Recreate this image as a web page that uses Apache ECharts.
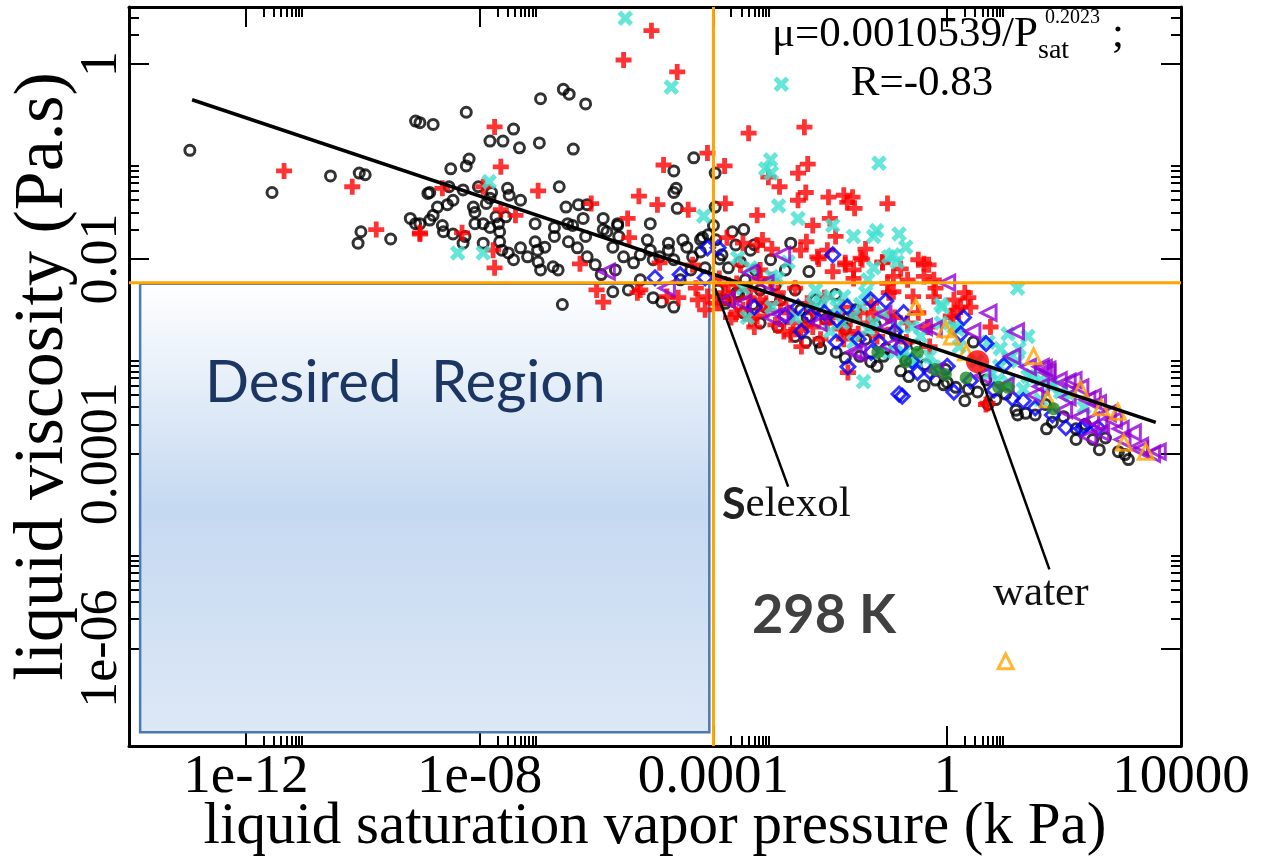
<!DOCTYPE html>
<html>
<head>
<meta charset="utf-8">
<script src="https://cdn.jsdelivr.net/npm/echarts@6/dist/echarts.min.js"></script>
<style>
html, body { margin: 0; padding: 0; background: #fff; }
#main { width: 1262px; height: 859px; }
</style>
</head>
<body>
<div id="main"></div>
<script>
// axis ticks
var xMajor = [1e-12, 1e-8, 1e-4, 1, 1e4];
var xLabels = ['1e-12', '1e-08', '0.0001', '1', '10000'];
var xMinor = [2e-12, 3e-12, 4e-12, 5e-12, 6e-12, 7e-12, 8e-12, 9e-12,
    2e-8, 3e-8, 4e-8, 5e-8, 6e-8, 7e-8, 8e-8, 9e-8,
    2e-4, 3e-4, 4e-4, 5e-4, 6e-4, 7e-4, 8e-4, 9e-4,
    2, 3, 4, 5, 6, 7, 8, 9];
var yMajor = [1, 0.01, 1e-4, 1e-6];
var yLabels = ['1', '0.01', '0.0001', '1e-06'];
var yMinor = [2, 3,
    0.02, 0.03, 0.04, 0.05, 0.06, 0.07, 0.08, 0.09,
    2e-4, 3e-4, 4e-4, 5e-4, 6e-4, 7e-4, 8e-4, 9e-4,
    2e-6, 3e-6, 4e-6, 5e-6, 6e-6, 7e-6, 8e-6, 9e-6];

// [vapor pressure kPa, viscosity Pa.s]
var circlePts = [
    [1.1e-13, 0.13], [2.8e-12, 0.048], [2.8e-11, 0.071], [8.7e-11, 0.076], [1.1e-10, 0.073],
    [9.3e-11, 0.019], [8.3e-11, 0.0145], [3e-10, 0.016], [8e-10, 0.023], [8e-10, 0.26],
    [1.3e-9, 0.047], [1.4e-9, 0.025], [6.5e-10, 0.026],
    [9.5e-10, 0.25], [1.6e-9, 0.24], [5.9e-9, 0.32], [1.1e-7, 0.44], [2.7e-7, 0.55], [3.4e-7, 0.49],
    [6.5e-7, 0.39], [3.8e-8, 0.215], [1.5e-8, 0.162], [2.5e-8, 0.162], [4.8e-8, 0.138], [1.05e-7, 0.155],
    [4e-7, 0.134], [6.6e-9, 0.106], [5.9e-9, 0.09], [3.2e-9, 0.084], [4.6e-5, 0.109], [2.1e-5, 0.08],
    [2.3e-7, 0.055], [3e-8, 0.053], [3.2e-8, 0.045], [1.4e-9, 0.048], [3e-9, 0.055], [5.2e-9, 0.051],
    [9.5e-9, 0.055], [1.6e-8, 0.048], [5e-8, 0.04], [3e-7, 0.034], [4.9e-7, 0.036], [6.9e-7, 0.036],
    [2.3e-5, 0.053], [2.1e-5, 0.048], [2.4e-5, 0.033], [1.9e-9, 0.034], [2.8e-9, 0.036], [3.5e-9, 0.04],
    [7.8e-9, 0.034], [8.3e-9, 0.03], [1.3e-8, 0.037], [1.5e-8, 0.042], [1.6e-9, 0.028], [9.5e-10, 0.023],
    [2.3e-9, 0.022], [2.4e-9, 0.019], [3.5e-9, 0.018], [5.6e-9, 0.017], [5.2e-9, 0.0145], [8.3e-9, 0.023],
    [1.15e-8, 0.023], [1.5e-8, 0.021], [2.1e-8, 0.023], [2.2e-8, 0.019], [8.9e-8, 0.023], [1.9e-7, 0.021],
    [3.2e-7, 0.023], [3.9e-7, 0.022], [5.9e-7, 0.026], [1.3e-6, 0.026], [2.3e-6, 0.023], [8.3e-6, 0.023],
    [1.9e-8, 0.027], [2.8e-8, 0.027],
    [1.15e-8, 0.0145], [2.2e-8, 0.015], [2.4e-8, 0.0123], [3.1e-8, 0.0115], [3.8e-8, 0.0098], [5e-8, 0.013],
    [6.6e-8, 0.0105], [8.9e-8, 0.015], [9.8e-8, 0.0123], [1e-7, 0.0093], [1.1e-7, 0.0077], [1.3e-7, 0.0132],
    [1.8e-7, 0.0083], [1.9e-7, 0.017], [2.2e-7, 0.0077], [3.3e-7, 0.015], [4.7e-7, 0.013], [6.5e-7, 0.017],
    [6.9e-7, 0.0105], [9.5e-7, 0.0087], [1.3e-6, 0.02], [1.5e-6, 0.019], [1.9e-6, 0.0132], [2.3e-6, 0.022],
    [2.4e-6, 0.017], [2.9e-6, 0.0105], [4.3e-6, 0.0091], [5.6e-6, 0.011], [7.4e-6, 0.0156], [8.3e-6, 0.0123],
    [9.3e-6, 0.0098], [1.2e-5, 0.0105], [1.7e-5, 0.0145], [1.7e-5, 0.0123], [2.1e-5, 0.0098], [3e-5, 0.0156],
    [3.5e-5, 0.0132], [4.4e-5, 0.0105], [6.5e-5, 0.0166], [6e-5, 0.0118], [8.1e-5, 0.0177], [1e-4, 0.022],
    [1.07e-4, 0.034], [1.07e-4, 0.076],
    [2.6e-7, 0.0034], [1.9e-6, 0.0046], [3.5e-6, 0.0048], [9.3e-6, 0.004], [1.3e-5, 0.0036], [2.1e-5, 0.0032],
    [6e-5, 0.0158], [7.2e-5, 0.0081], [4.1e-5, 0.0077], [2.7e-5, 0.0061], [1.2e-6, 0.0069], [5.6e-6, 0.0061],
    [2.1e-6, 0.0077], [2.1e-4, 0.019], [3.3e-4, 0.02],
    [1.1e-4, 0.0157], [1.4e-4, 0.011], [1.8e-4, 0.0081], [2.4e-4, 0.0139], [2.9e-4, 0.0093], [3.5e-4, 0.0061],
    [4.3e-4, 0.0123], [5.2e-4, 0.0077], [6.3e-4, 0.0048], [7.8e-4, 0.0032], [9.5e-4, 0.0098], [1.15e-3, 0.0054],
    [1.2e-4, 0.0048], [1.6e-4, 0.0038], [2.7e-4, 0.0043], [4.7e-4, 0.0034], [1.4e-3, 0.0038], [1.7e-3, 0.0077],
    [2.1e-3, 0.0145], [2.5e-3, 0.0048], [3.1e-3, 0.003], [4.3e-3, 0.0074], [3.8e-3, 0.0014], [5.6e-3, 0.0038],
    [8.3e-3, 0.0024], [0.0123, 0.0043], [0.018, 0.0019], [0.027, 0.003], [0.04, 0.0015], [0.059, 0.0021],
    [0.089, 0.0012], [0.13, 0.00166], [0.195, 9.2e-4], [0.22, 6.2e-4], [0.29, 0.0013], [0.43, 8.2e-4],
    [0.63, 5.7e-4], [0.93, 7.3e-4], [1.4, 4.8e-4], [2.3, 4.6e-4], [3.3, 4.3e-4], [4.6, 5.7e-4],
    [6.8, 3.6e-4], [10, 4.1e-4], [15, 2.8e-4], [22, 2.6e-4], [32, 2.5e-4], [48, 3.2e-4], [63, 2.1e-4],
    [98, 2.4e-4], [160, 1.8e-4], [230, 2e-4], [310, 1.4e-4], [510, 1.45e-4], [850, 1.05e-4], [1100, 9.8e-5],
    [1260, 8.7e-5], [0.87, 5.1e-4], [2.8, 0.0014], [0.081, 0.001], [1.0, 5.4e-4], [0.049, 8.8e-4],
    [0.018, 9.6e-4], [6.8e-3, 0.0012],
    [1.6e-4, 0.0035], [3.2e-4, 0.0028], [6.3e-4, 0.0022], [1.26e-3, 0.002], [2.5e-3, 0.0016], [6.3e-3, 0.0014],
    [0.0126, 0.0011], [0.032, 0.001], [0.063, 7.9e-4], [0.16, 7.1e-4], [0.4, 5e-4], [2, 3.5e-4], [5, 3.2e-4],
    [16, 2.5e-4], [50, 1.8e-4], [160, 1.4e-4], [400, 1.1e-4], [2.5e-4, 0.0045], [4e-3, 0.0025], [0.02, 0.0025],
    [1.26e-4, 0.01], [5e-4, 0.014]
];

var plusPts = [
    [4.5e-12, 0.08], [6.6e-11, 0.055], [1.7e-10, 0.02], [9.5e-10, 0.018],
    [1.8e-8, 0.226], [2.3e-8, 0.088], [1e-7, 0.05], [2.3e-9, 0.053], [1.15e-8, 0.055], [2.3e-8, 0.032],
    [4.1e-8, 0.028], [5e-9, 0.0185], [9.5e-10, 0.0185], [1.7e-8, 0.0123], [1.8e-8, 0.0081], [8.1e-7, 0.037],
    [5.2e-7, 0.0089], [3.4e-6, 0.026], [3.6e-6, 0.0165], [5.3e-6, 0.044], [1.1e-5, 0.036], [1.4e-5, 0.092],
    [3.7e-5, 0.032], [7.9e-5, 0.122], [2.4e-5, 0.83], [1.2e-5, 0.0091], [1e-6, 0.0048], [1.3e-6, 0.0036],
    [5.4e-5, 0.0038], [1.6e-5, 0.0041], [5.6e-6, 0.0048], [4.4e-5, 0.0087], [2.9e-6, 1.1], [8.7e-6, 2.2],
    [1.55e-4, 0.09], [4e-4, 0.195], [3.6e-3, 0.225], [4.1e-3, 0.094], [2.8e-3, 0.076], [8.7e-4, 0.069],
    [1.35e-3, 0.055], [3.8e-3, 0.048], [2.8e-3, 0.04], [9.3e-3, 0.043], [0.017, 0.045], [0.024, 0.043],
    [0.0195, 0.038], [0.026, 0.033], [0.095, 0.037], [5.6e-4, 0.028], [1.6e-4, 0.037], [9.8e-3, 0.026],
    [5e-3, 0.022], [0.0123, 0.017], [3.9e-3, 0.015], [1.7e-4, 0.0165], [3.2e-4, 0.0145], [5.6e-4, 0.0139],
    [6.9e-4, 0.0156], [3.1e-3, 0.0123], [6e-3, 0.0105], [8.9e-3, 0.0123], [0.033, 0.0102], [0.018, 0.0087],
    [0.011, 0.0074], [0.078, 0.0093], [0.12, 0.0066], [0.32, 0.0098], [0.48, 0.0087], [0.21, 0.0061],
    [0.59, 0.0061],
    [2.2e-4, 0.0038], [3.2e-4, 0.003], [5.6e-4, 0.0026], [8.3e-4, 0.003], [1.4e-3, 0.0035], [2.3e-3, 0.0022],
    [3.1e-3, 0.0019], [5.1e-3, 0.0028], [8.9e-3, 0.0022], [0.015, 0.0019], [0.017, 0.0015], [0.03, 0.0017],
    [0.044, 0.0022], [0.055, 0.0028], [0.095, 0.0026], [0.12, 0.0019], [0.21, 0.0022], [0.46, 0.002],
    [7.9e-5, 0.0041], [1.3e-4, 0.0035], [0.26, 0.0041], [0.59, 0.0041], [1.3, 0.0038], [1.5, 0.003],
    [2.3, 0.004], [2.5, 0.0032], [1.7, 0.0032], [1.15, 0.0026], [0.018, 0.0091], [0.025, 0.0077],
    [0.035, 0.0098], [0.078, 0.0091], [0.4, 0.0066], [0.095, 0.0056], [0.12, 0.0046], [2.9e-4, 0.0087],
    [6.3e-4, 0.0077], [9.5e-4, 0.0061], [4.3e-4, 0.0048], [1.8e-4, 0.0054], [0.02, 6.8e-4], [4.6, 3.2e-4],
    [5.5, 0.002], [4.9, 3.3e-4], [4.3e-4, 0.0024], [2.1e-3, 0.00166], [6.8e-3, 0.0015], [6.3e-4, 0.0038],
    [2.4e-4, 0.0027], [7.2e-5, 0.003], [1.15e-3, 0.0021], [3.8e-3, 0.0021], [0.022, 0.0024],
    [1.26e-4, 0.0063], [1.6e-4, 0.0045], [2.5e-4, 0.0056], [4e-4, 0.004], [6.3e-4, 0.0063], [7.9e-4, 0.0035],
    [1.26e-3, 0.0045], [2e-3, 0.0028], [2.5e-3, 0.005], [4e-3, 0.0035], [5e-3, 0.002], [7.9e-3, 0.004],
    [0.01, 0.0025], [0.016, 0.0032], [0.02, 0.0018], [0.032, 0.0028], [0.05, 0.0035], [0.063, 0.0016],
    [0.126, 0.0025], [0.2, 0.0014], [0.32, 0.0028], [0.5, 0.00126], [2e-4, 0.0025], [5e-4, 0.002],
    [1.6e-3, 0.0018], [3.2e-3, 0.00126], [1.1e-4, 0.0035], [5e-5, 0.005], [2.5e-5, 0.004], [5e-6, 0.0045],
    [1e-3, 0.0126], [6.3e-3, 0.01], [0.025, 0.0063], [0.1, 0.0045], [0.63, 0.005], [1.26, 0.0025],
    [2, 0.0045], [0.4, 0.0089], [0.16, 0.0079], [0.04, 0.0126]
];

var crossPts = [
    [3.1e-6, 2.95], [1.9e-5, 0.58], [1.45e-8, 0.062], [1.15e-8, 0.0115], [4.2e-9, 0.0115], [6.8e-5, 0.0275],
    [1.45e-3, 0.62], [9.5e-4, 0.104], [7.8e-4, 0.084], [9.8e-4, 0.076], [0.068, 0.096], [1.3e-3, 0.035],
    [2.8e-3, 0.026], [0.011, 0.022], [0.025, 0.017], [0.062, 0.0195], [0.15, 0.018], [0.195, 0.0132],
    [0.1, 0.0105], [0.12, 0.011], [0.14, 0.0093], [0.055, 0.0081], [0.044, 0.0061], [0.055, 0.017],
    [1e-3, 0.0066], [1.9e-3, 0.0093], [4.3e-4, 0.0081], [2.6e-4, 0.0102], [5.6e-3, 0.0048], [6.8e-3, 0.0036],
    [0.01, 0.0041], [0.013, 0.0032], [0.017, 0.0041], [0.025, 0.0026], [0.033, 0.0034], [0.044, 0.0019],
    [0.055, 0.0022], [0.072, 0.0011], [0.14, 0.002], [0.18, 0.0011], [0.23, 0.001], [0.29, 8.8e-4],
    [0.35, 0.0016], [0.59, 7.8e-4], [0.78, 0.0034], [1.5, 0.0019], [0.037, 5.5e-4], [3.8e-4, 0.0025],
    [11, 0.0017], [24, 0.0016], [17, 0.0012], [8.1, 0.0012], [11, 9.6e-4], [24, 6.2e-4], [40, 5.7e-4],
    [59, 4.9e-4], [87, 4.3e-4], [11, 5.4e-4], [7.2, 5.7e-4], [5.5, 6.8e-4], [20, 4.6e-4], [40, 3.6e-4],
    [220, 3e-4], [0.83, 0.0032], [1.3, 0.002], [16, 0.005],
    [3.2e-4, 0.005], [1e-3, 0.0032], [2.5e-3, 0.0025], [5e-3, 0.0035], [0.01, 0.0018], [0.016, 0.0022],
    [0.025, 0.0014], [0.079, 0.0028], [0.126, 0.0011], [0.25, 0.002], [0.5, 0.001], [1.6, 0.00126],
    [3.2, 8.9e-4], [5, 0.0014], [7.9, 7.9e-4], [16, 8.9e-4], [28, 6.3e-4], [63, 5e-4], [126, 4e-4],
    [1.26e-3, 0.0063], [0.04, 0.0045], [0.79, 0.0022]
];

var diamondPts = [
    [7.9e-5, 0.013], [2.7e-5, 0.0069], [1e-5, 0.0064], [7.2e-5, 0.0064], [1.2e-4, 0.013], [0.011, 0.011],
    [0.089, 0.0037], [0.02, 7.8e-4], [0.15, 4.1e-4], [0.17, 3.9e-4], [2.8e-3, 0.0032], [1.7e-3, 0.0026],
    [4.6e-3, 0.0026], [0.0195, 0.0032], [0.049, 0.0038], [0.18, 0.0028], [0.03, 0.0015], [0.068, 0.0014],
    [0.52, 6.8e-4], [1.3, 4.3e-4], [0.013, 0.0024], [1.9, 0.0025], [4.6, 0.00135], [9.3, 8.1e-4],
    [13, 3.7e-4], [32, 2.95e-4], [107, 1.85e-4], [220, 1.9e-4], [380, 1.85e-4], [1.7, 0.0017],
    [0.16, 0.00126], [0.31, 6.8e-4],
    [5e-4, 0.0032], [3.2e-3, 0.0018], [0.0126, 0.0014], [0.05, 0.0011], [0.25, 8.9e-4], [1, 7.9e-4],
    [2.5, 5.6e-4], [6.3, 4.5e-4], [20, 3.5e-4], [63, 2.5e-4], [200, 1.8e-4], [7.9e-3, 0.0028], [0.126, 0.0018]
];

var leftTriPts = [
    [1.5e-6, 0.0074], [1.6e-5, 0.005], [1.5e-3, 0.011], [1.0, 0.0057], [4.3e-4, 0.0072], [7.8e-4, 0.0056],
    [3.2e-4, 0.0035], [1.7e-4, 0.0038], [1.4e-3, 0.0027], [0.081, 0.0027], [0.03, 0.0011], [0.4, 0.002],
    [5.1, 0.0028], [2.7, 0.0018], [15, 0.0018], [13, 0.001], [45, 7.6e-4], [81, 5.7e-4], [115, 5.5e-4],
    [190, 4.8e-4], [250, 3.6e-4], [380, 3.3e-4], [560, 2.6e-4], [710, 2.2e-4], [930, 1.8e-4], [1500, 1.65e-4],
    [2000, 1.2e-4], [4000, 1.05e-4], [290, 2.2e-4], [190, 2.4e-4], [430, 1.65e-4], [115, 3.8e-4], [40, 4.9e-4],
    [24, 7.8e-4], [52, 7.3e-4], [145, 5.7e-4], [310, 3.8e-4], [260, 1.5e-4], [0.095, 0.002], [0.59, 0.0019],
    [40, 7.8e-4], [52, 6.8e-4],
    [1e-3, 0.0025], [6.3e-3, 0.0022], [0.025, 0.0011], [0.1, 0.00126], [0.63, 7.1e-4], [4, 6.3e-4],
    [10, 5e-4], [32, 4e-4], [100, 2.8e-4], [400, 2e-4], [1000, 1.4e-4], [2000, 1.1e-4], [3200, 1e-4]
];

var upTriPts = [
    [0.29, 0.0032], [0.93, 0.0019], [1.2, 0.0016], [30, 0.001], [190, 4.6e-4], [52, 3.6e-4], [430, 3e-4],
    [830, 2.7e-4], [1050, 1.3e-4], [2500, 1.05e-4], [2.1, 0.0011], [10, 7.4e-7]
];

var greenPts = [
    [0.065, 0.0011], [0.195, 8.8e-4], [0.31, 0.0011], [0.63, 7.3e-4], [0.93, 6.5e-4], [2.1, 6e-4],
    [7.6, 4.8e-4], [11, 4.8e-4], [66, 2.9e-4]
];

var waterPt = [[3.3, 8.8e-4]];

// fit mu = 0.0010539 / Psat^0.2023, ends
var fitLine = [[1.2e-13, 0.43], [3700, 2.1e-4]];
var selexolPtr = [[1.07e-4, 0.005], [1.9e-3, 4.6e-5]];
var waterPtr = [[3.5, 6.9e-4], [56, 6.5e-6]];

// limits of the desired region
var limitP = 1e-4;
var limitMu = 0.0057;
var limitVLine = [[limitP, 1e-7], [limitP, 3.85]];
var limitHLine = [[1e-14, limitMu], [1e4, limitMu]];
var regionBox = [[1.55e-14, 0.00555], [8.5e-5, 1.38e-7]];

var serif = '"Liberation Serif", "Times New Roman", serif';

function labelFor(vals, texts) {
    return function (v) {
        for (var i = 0; i < vals.length; i++) {
            if (Math.abs(Math.log10(v) - Math.log10(vals[i])) < 1e-3) return texts[i];
            if (Math.abs(v - Math.log10(vals[i])) < 1e-6) return texts[i];
        }
        return '';
    };
}

function makeAxis(dim, grid, pos, ticks, len, main) {
    var ax = {
        type: 'log',
        logBase: 10,
        gridIndex: grid,
        position: pos,
        min: dim === 'x' ? 1e-14 : 1e-7,
        max: dim === 'x' ? 1e4 : 3.85,
        axisLine: { show: grid === 0, lineStyle: { color: '#000', width: 3 } },
        axisTick: { show: true, inside: true, length: len, customValues: ticks,
            lineStyle: { color: '#000', width: 2 } },
        axisLabel: { show: false },
        splitLine: { show: false },
        minorTick: { show: false },
        minorSplitLine: { show: false },
        axisPointer: { show: false }
    };
    if (main && dim === 'x') {
        ax.axisLabel = { show: true, customValues: xMajor, formatter: labelFor(xMajor, xLabels),
            fontFamily: serif, fontSize: 55, color: '#000', margin: 4 };
        ax.name = 'liquid saturation vapor pressure (k Pa)';
        ax.nameLocation = 'middle';
        ax.nameGap = 52;
        ax.nameMoveOverlap = false;
        ax.nameTextStyle = { fontFamily: serif, fontSize: 59, color: '#000' };
    }
    if (main && dim === 'y') {
        ax.axisLabel = { show: true, customValues: yMajor, formatter: labelFor(yMajor, yLabels),
            rotate: 90, fontFamily: serif, fontSize: 52, color: '#000', margin: 1 };
        ax.name = 'liquid viscosity (Pa.s)';
        ax.nameLocation = 'middle';
        ax.nameGap = 50;
        ax.nameMoveOverlap = false;
        ax.nameTextStyle = { fontFamily: serif, fontSize: 70, color: '#000' };
    }
    return ax;
}

function hollow(color, width) {
    return { color: 'rgba(0,0,0,0)', borderColor: color, borderWidth: width };
}

var plusPath = 'path://M7,0H13V7H20V13H13V20H7V13H0V7H7Z';

var myChart = echarts.init(document.getElementById('main'));

var gridBox = { left: 129, right: 81, top: 7, bottom: 113, outerBoundsMode: 'none', containLabel: false };

var option = {
    backgroundColor: '#fff',
    animation: false,
    grid: [gridBox, gridBox],
    xAxis: [
        makeAxis('x', 0, 'bottom', xMajor, 20, true),
        makeAxis('x', 0, 'top', xMajor, 20, false),
        makeAxis('x', 1, 'bottom', xMinor, 10, false),
        makeAxis('x', 1, 'top', xMinor, 10, false)
    ],
    yAxis: [
        makeAxis('y', 0, 'left', yMajor, 20, true),
        makeAxis('y', 0, 'right', yMajor, 20, false),
        makeAxis('y', 1, 'left', yMinor, 10, false),
        makeAxis('y', 1, 'right', yMinor, 10, false)
    ],
    series: [
        {
            type: 'scatter', name: 'c1', data: circlePts, symbol: 'circle', symbolSize: 10,
            itemStyle: hollow('#000', 3), silent: true,
            markArea: {
                silent: true,
                itemStyle: {
                    color: new echarts.graphic.LinearGradient(0, 0, 0, 1, [
                        { offset: 0, color: '#ffffff' },
                        { offset: 0.5, color: '#c5d9f1' },
                        { offset: 1, color: '#dde8f6' }
                    ]),
                    borderColor: '#4a7ab0', borderWidth: 2.5
                },
                label: { show: false },
                data: [[{ xAxis: regionBox[0][0], yAxis: regionBox[0][1] },
                        { xAxis: regionBox[1][0], yAxis: regionBox[1][1] }]]
            }
        },
        { type: 'scatter', name: 'c2', data: plusPts, symbol: plusPath, symbolSize: 16,
            itemStyle: { color: '#ff0000' }, silent: true },
        { type: 'scatter', name: 'c3', data: crossPts, symbol: plusPath, symbolSize: 17, symbolRotate: 45,
            itemStyle: { color: '#40e0d0' }, silent: true },
        { type: 'scatter', name: 'c4', data: diamondPts, symbol: 'diamond', symbolSize: 14,
            itemStyle: hollow('#0000ff', 3), silent: true },
        { type: 'scatter', name: 'c5', data: leftTriPts, symbol: 'triangle', symbolSize: 15, symbolRotate: 90,
            itemStyle: hollow('#9400d3', 3), silent: true },
        { type: 'scatter', name: 'c6', data: upTriPts, symbol: 'triangle', symbolSize: 15,
            itemStyle: hollow('#ffa500', 3), silent: true },
        { type: 'scatter', name: 'c7', data: greenPts, symbol: 'circle', symbolSize: 13,
            itemStyle: { color: '#1f8b24' }, silent: true },
        { type: 'line', name: 'ptr1', data: selexolPtr, symbol: 'none', silent: true,
            lineStyle: { color: '#000', width: 2.5 } },
        { type: 'line', name: 'ptr2', data: waterPtr, symbol: 'none', silent: true,
            lineStyle: { color: '#000', width: 2.5 } },
        { type: 'scatter', name: 'water', data: waterPt, symbol: 'circle', symbolSize: 23,
            itemStyle: { color: '#ff0000' }, silent: true },
        { type: 'line', name: 'fit', data: fitLine, symbol: 'none', silent: true, z: 4,
            lineStyle: { color: '#000', width: 3.5 } },
        { type: 'line', name: 'limitP', data: limitVLine, symbol: 'none', silent: true, z: 5,
            lineStyle: { color: '#ffa500', width: 3 } },
        { type: 'line', name: 'limitMu', data: limitHLine, symbol: 'none', silent: true, z: 5,
            lineStyle: { color: '#ffa500', width: 3 } }
    ],
    graphic: [
        { type: 'text', x: 205, y: 383, z: 100, silent: true,
            style: { text: 'Desired  Region', font: '58px Lato, "Open Sans", sans-serif', fill: '#1c3664',
                verticalAlign: 'middle' } },
        { type: 'text', x: 752, y: 616, z: 100, silent: true,
            style: { text: '298 K', font: 'bold 54px Lato, "Open Sans", sans-serif', fill: '#404040',
                verticalAlign: 'middle' } },
        { type: 'text', x: 722, y: 505, z: 100, silent: true,
            style: { text: '{s|S}{e|elexol}', verticalAlign: 'middle',
                rich: {
                    s: { fontFamily: 'Lato, sans-serif', fontWeight: 'bold', fontSize: 43, fill: '#222' },
                    e: { fontFamily: serif, fontSize: 43, fill: '#111' }
                } } },
        { type: 'text', x: 993, y: 594, z: 100, silent: true,
            style: { text: 'water', font: '43px ' + serif, fill: '#111', verticalAlign: 'middle' } },
        { type: 'text', x: 772, y: 35, z: 100, silent: true,
            style: { text: 'μ=0.0010539/P', font: '43px ' + serif, fill: '#000', verticalAlign: 'middle' } },
        { type: 'text', x: 1038, y: 51, z: 100, silent: true,
            style: { text: 'sat', font: '28px ' + serif, fill: '#000', verticalAlign: 'middle' } },
        { type: 'text', x: 1045, y: 18, z: 100, silent: true,
            style: { text: '0.2023', font: '20px ' + serif, fill: '#000', verticalAlign: 'middle' } },
        { type: 'text', x: 1112, y: 35, z: 100, silent: true,
            style: { text: ';', font: '43px ' + serif, fill: '#000', verticalAlign: 'middle' } },
        { type: 'text', x: 922, y: 84, z: 100, silent: true,
            style: { text: 'R=-0.83', font: '43px ' + serif, fill: '#000', align: 'center',
                verticalAlign: 'middle' } }
    ]
};

myChart.setOption(option);
</script>
</body>
</html>
